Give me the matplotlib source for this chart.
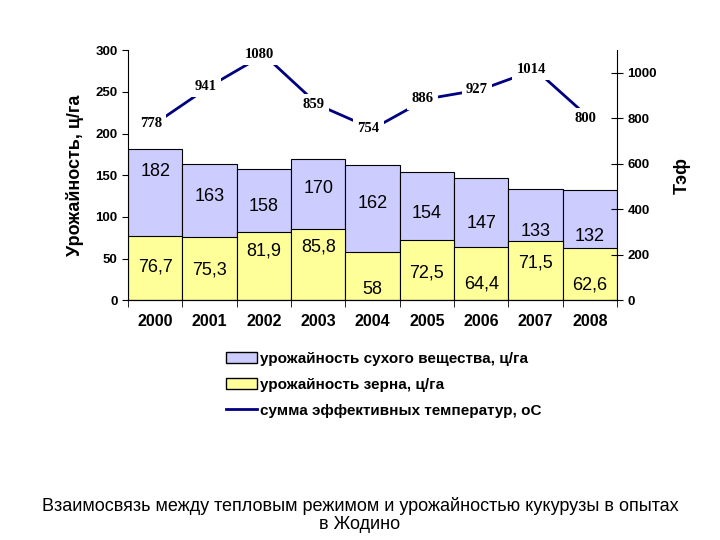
import numpy as np
import matplotlib
matplotlib.use('Agg')
from matplotlib import pyplot as plt
from matplotlib.patches import Patch
from matplotlib.lines import Line2D

plt.rcParams['font.family'] = ['Liberation Sans', 'DejaVu Sans']

years = ['2000', '2001', '2002', '2003', '2004', '2005', '2006', '2007', '2008']
dry = [182, 163, 158, 170, 162, 154, 147, 133, 132]
grain = [76.7, 75.3, 81.9, 85.8, 58, 72.5, 64.4, 71.5, 62.6]
temps = [778, 941, 1080, 859, 754, 886, 927, 1014, 800]
grain_txt = ['76,7', '75,3', '81,9', '85,8', '58', '72,5', '64,4', '71,5', '62,6']

# where excel put the labels (data units)
dry_lab_y = [154, 124, 113, 134, 116, 104, 92, 82, 76]
grain_lab_y = [40, 36, 59, 64, 13, 33, 19, 45, 18]

x = np.arange(len(years))

fig = plt.figure(figsize=(7.2, 5.4), dpi=100)
ax = fig.add_axes([0.178, 0.444, 0.679, 0.463])

ax.bar(x, dry, width=1, color='#CCCCFF', edgecolor='black', linewidth=0.8)
ax.bar(x, grain, width=1, color='#FFFF99', edgecolor='black', linewidth=0.8)
for i in x:
    ax.text(i, dry_lab_y[i], str(dry[i]), ha='center', va='center', fontsize=13)
    ax.text(i, grain_lab_y[i], grain_txt[i], ha='center', va='center', fontsize=13)

ax.set_xlim(-0.5, 8.5)
ax.set_ylim(0, 300)
ax.set_yticks([0, 50, 100, 150, 200, 250, 300])
ax.set_xticks(x)
ax.set_xticklabels(years, fontsize=11.5, fontweight='bold')
ax.set_xticks(np.arange(-0.5, 9, 1), minor=True)
ax.tick_params(axis='x', which='major', length=0, pad=10)
ax.tick_params(axis='x', which='minor', length=5, direction='out')
ax.tick_params(axis='y', labelsize=9.5, length=4, direction='out')
for t in ax.get_yticklabels():
    t.set_fontweight('bold')
ax.spines['top'].set_visible(False)
ax.spines['right'].set_visible(False)
ax.set_ylabel('Урожайность, ц/га', fontsize=13, fontweight='bold', labelpad=8)

ax2 = ax.twinx()
ax2.plot(x, temps, color='#000080', linewidth=2)
for i in x:
    ax2.text(i - 0.08, temps[i], str(temps[i]), ha='center', va='center', fontsize=10.5,
             fontweight='bold', family=['Liberation Serif'],
             bbox=dict(facecolor='white', edgecolor='none', pad=3))
ax2.set_ylim(0, 1100)
ax2.set_yticks([0, 200, 400, 600, 800, 1000])
ax2.tick_params(axis='y', labelsize=9.5, length=8, direction='inout')
for t in ax2.get_yticklabels():
    t.set_fontweight('bold')
ax2.spines['top'].set_visible(False)
ax2.spines['left'].set_visible(False)
ax2.set_ylabel('Тэф', fontsize=13, fontweight='bold', labelpad=12)

handles = [Patch(facecolor='#CCCCFF', edgecolor='black'),
           Patch(facecolor='#FFFF99', edgecolor='black'),
           Line2D([0], [0], color='#000080', linewidth=2)]
labels = ['урожайность сухого вещества, ц/га',
          'урожайность зерна, ц/га',
          'сумма эффективных температур, оС']
fig.legend(handles, labels, loc='upper left', bbox_to_anchor=(0.295, 0.374),
           frameon=False, prop={'size': 11, 'weight': 'bold'},
           handlelength=2.0, handleheight=0.7, handletextpad=0.2, labelspacing=0.78)

fig.text(0.5, 0.046, 'Взаимосвязь между тепловым режимом и урожайностью кукурузы в опытах\nв Жодино',
         ha='center', va='center', fontsize=13, linespacing=1.1)

fig.savefig('out.png', dpi=100)
